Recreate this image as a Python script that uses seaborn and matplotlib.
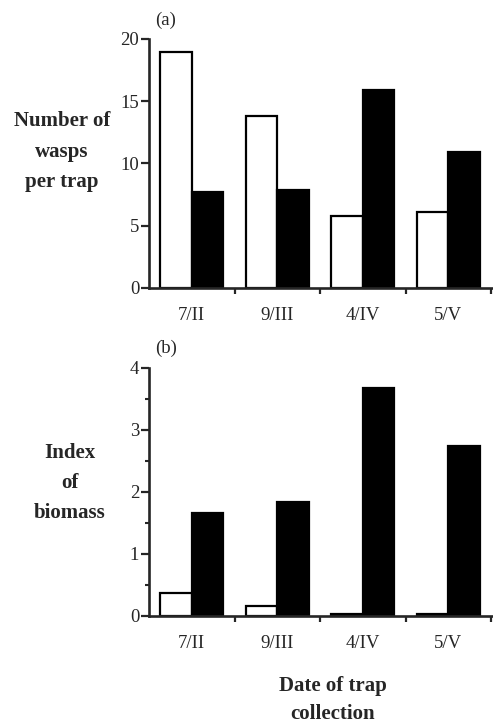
import matplotlib
matplotlib.use("Agg")
import matplotlib.pyplot as plt
from matplotlib.ticker import MultipleLocator, FixedLocator
import seaborn as sns
import pandas as pd

dates = ["7/II", "9/III", "4/IV", "5/V"]
groups = ["open", "filled"]
wasps_open = [18.9, 13.8, 5.8, 6.1]
wasps_filled = [7.7, 7.9, 15.9, 10.9]
biomass_open = [0.37, 0.15, 0.02, 0.03]
biomass_filled = [1.65, 1.83, 3.67, 2.73]

sns.set_style("ticks")
plt.rcParams["font.family"] = ["Liberation Serif", "DejaVu Serif"]

def make_df(a, b):
    rows = []
    for d, v in zip(dates, a):
        rows.append({"date": d, "group": groups[0], "value": v})
    for d, v in zip(dates, b):
        rows.append({"date": d, "group": groups[1], "value": v})
    return pd.DataFrame(rows)

W, H = 493, 724
fig = plt.figure(figsize=(W / 100, H / 100), dpi=100)

def add_ax(y0_px, ytop_px):
    left = 149 / W
    right = 493 / W
    bottom = 1 - y0_px / H
    top = 1 - ytop_px / H
    return fig.add_axes([left, bottom, right - left, top - bottom])

ax1 = add_ax(288, 38.7)
ax2 = add_ax(615.7, 367.7)

pal = {"open": "white", "filled": "black"}
for ax, (a, b), ymax, step, minor in [
    (ax1, (wasps_open, wasps_filled), 20, 5, None),
    (ax2, (biomass_open, biomass_filled), 4, 1, 0.5),
]:
    df = make_df(a, b)
    sns.barplot(data=df, x="date", y="value", hue="group", order=dates,
                hue_order=groups, palette=pal, width=0.74, gap=0,
                edgecolor="black", linewidth=1.6, ax=ax, legend=False,
                errorbar=None, saturation=1)
    ax.set_xlim(-0.5, 3.523)
    ax.set_ylim(0, ymax)
    ax.yaxis.set_major_locator(MultipleLocator(step))
    if minor:
        ax.yaxis.set_minor_locator(MultipleLocator(minor))
        ax.tick_params(axis="y", which="minor", length=3, width=1.5, direction="out")
    ax.set_xlabel("")
    ax.set_ylabel("")
    for s in ["top", "right"]:
        ax.spines[s].set_visible(False)
    for s in ["left", "bottom"]:
        ax.spines[s].set_linewidth(1.9)
    ax.tick_params(axis="y", which="major", length=6, width=1.6, pad=1,
                   labelsize=13.5, direction="out")
    ax.tick_params(axis="x", which="major", length=0, pad=14, labelsize=13.5)
    ax.xaxis.set_minor_locator(FixedLocator([0.5, 1.5, 2.5, 3.5]))
    ax.tick_params(axis="x", which="minor", length=4, width=1.6, direction="out")
    ax.set_facecolor("white")

fig.text(166 / W, 1 - 20 / H, "(a)", ha="center", va="center", fontsize=13.5)
fig.text(166 / W, 1 - 348 / H, "(b)", ha="center", va="center", fontsize=13.5)

fig.text(62 / W, 1 - 152 / H, "Number of\nwasps\nper trap", ha="center",
         va="center", fontsize=15, fontweight="bold", linespacing=1.7,
         multialignment="center")
fig.text(70 / W, 1 - 483 / H, "Index\nof\nbiomass", ha="center",
         va="center", fontsize=15, fontweight="bold", linespacing=1.7,
         multialignment="center")
fig.text(333 / W, 1 - 700 / H, "Date of trap\ncollection", ha="center",
         va="center", fontsize=15, fontweight="bold", linespacing=1.55,
         multialignment="center")

fig.savefig("out.png", dpi=100, facecolor="white")
